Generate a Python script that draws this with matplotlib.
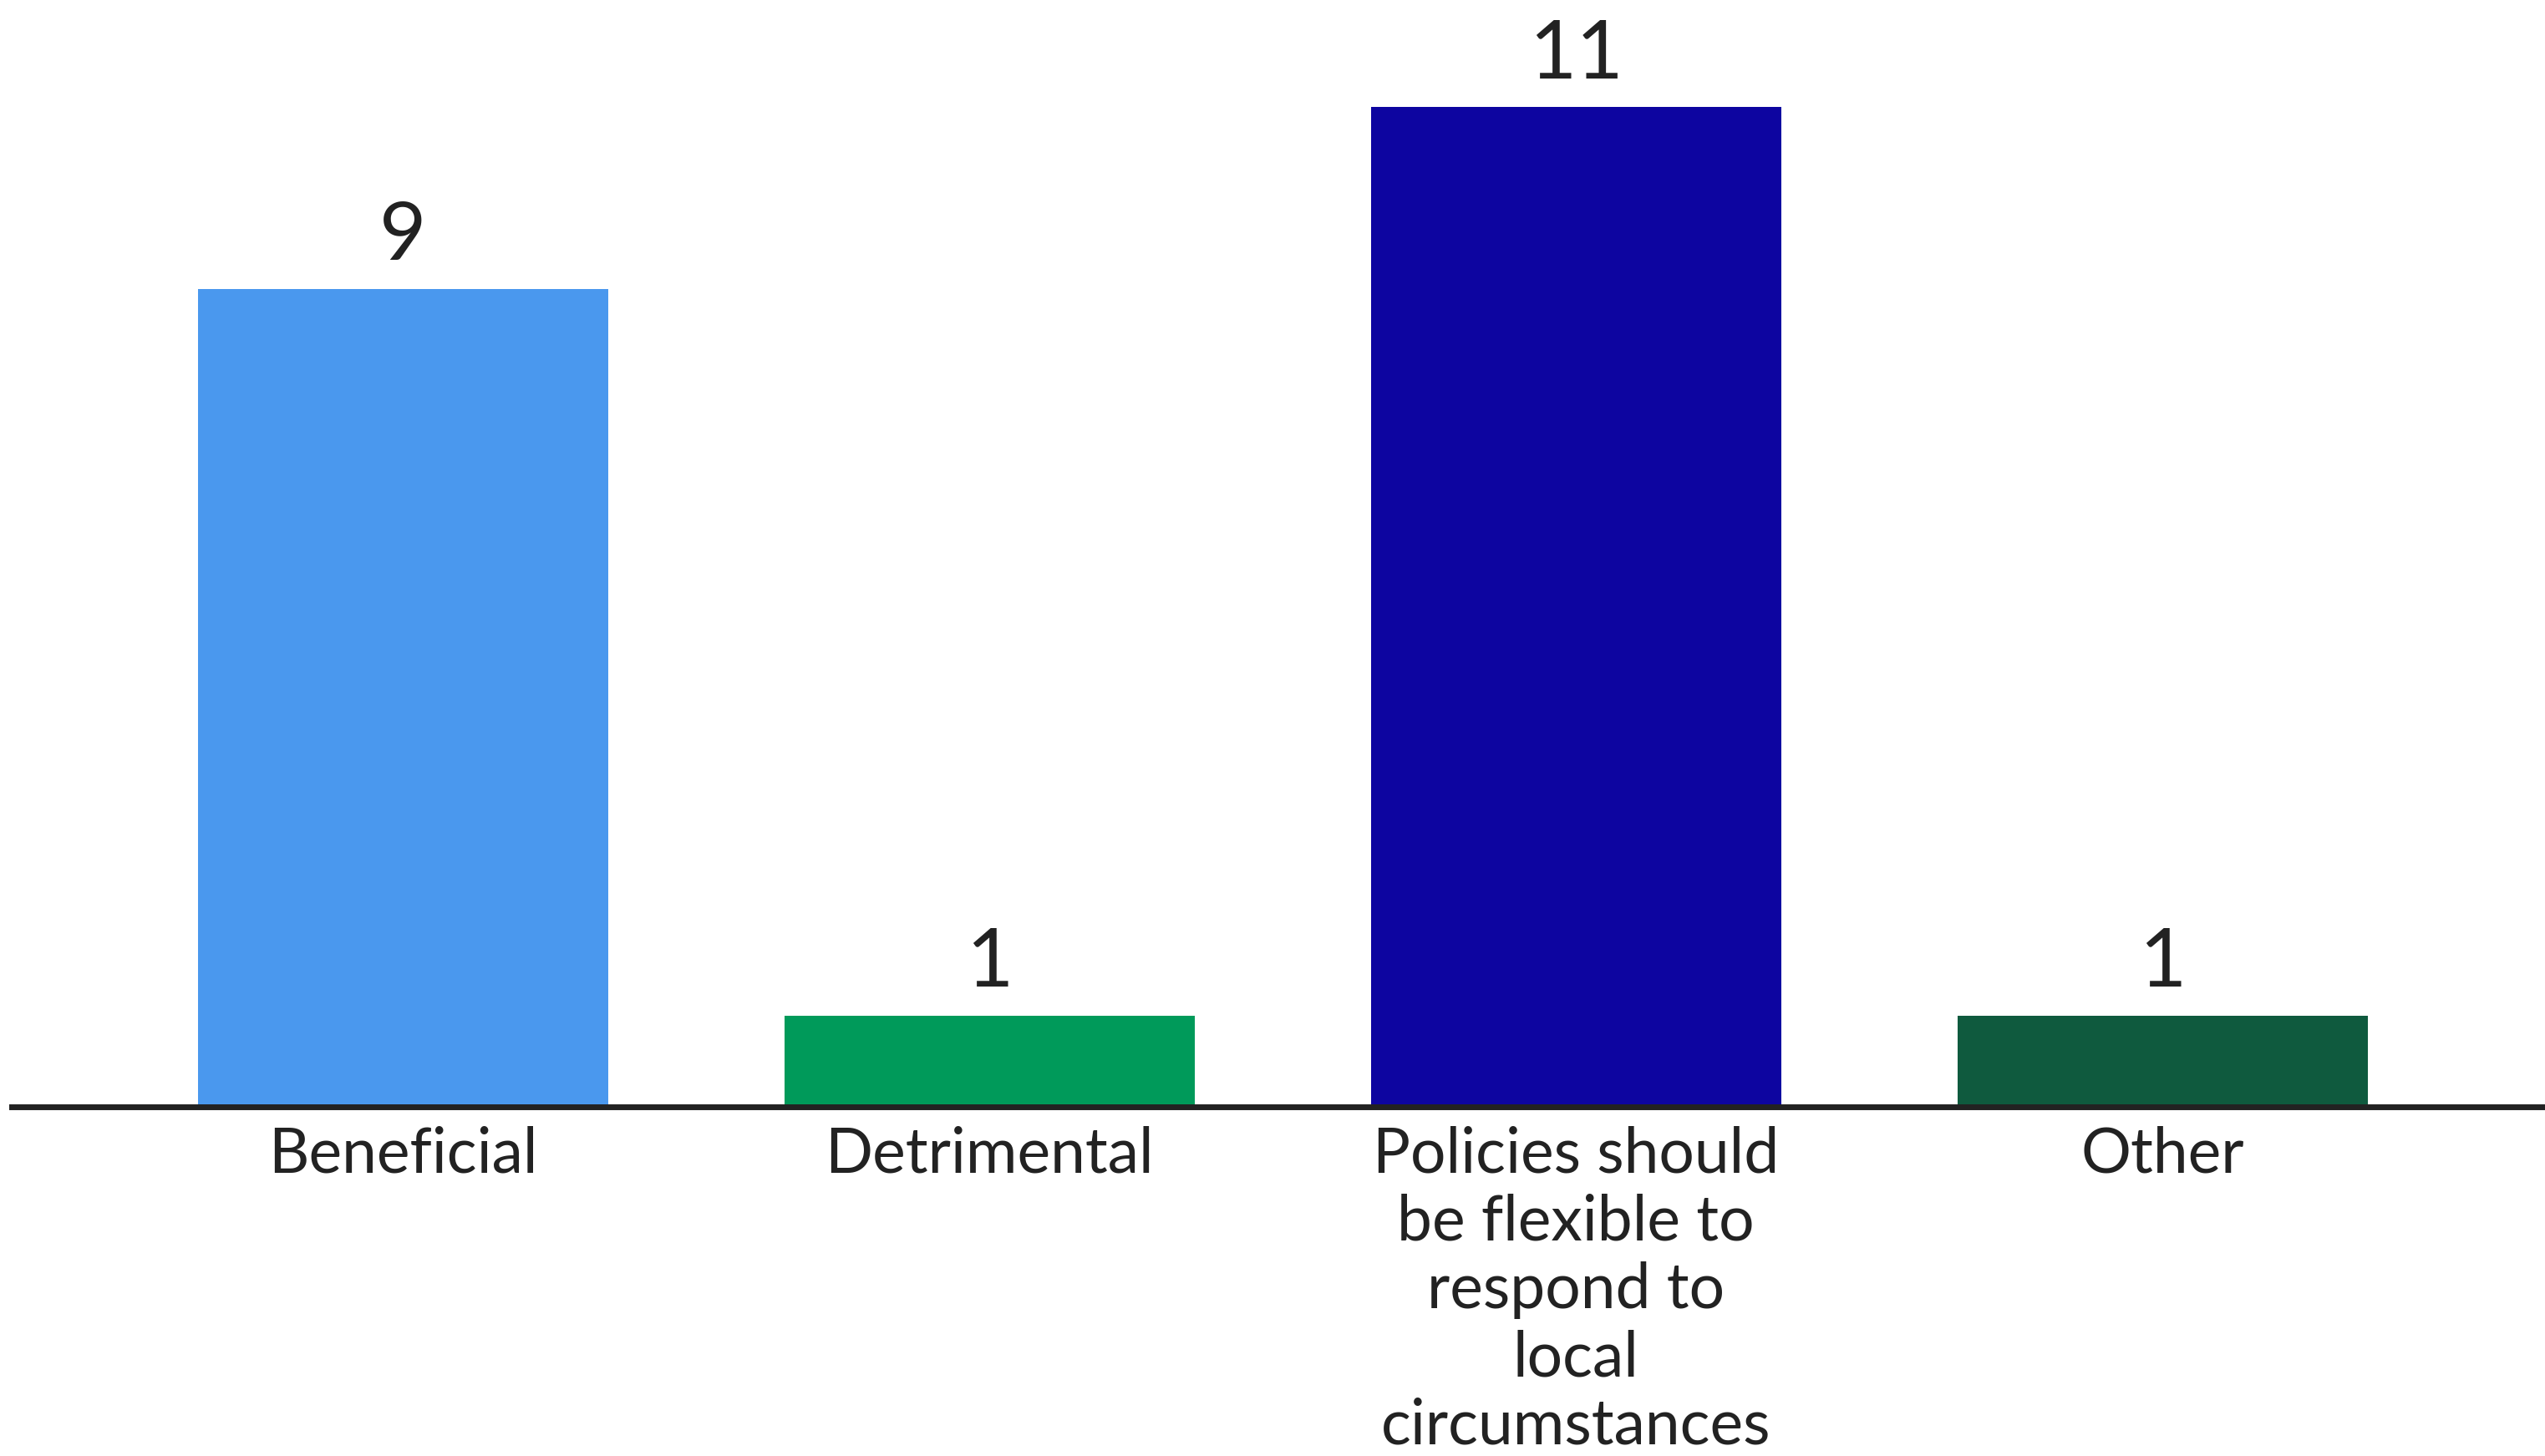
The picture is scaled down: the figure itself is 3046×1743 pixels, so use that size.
import matplotlib
matplotlib.use("Agg")
import matplotlib.pyplot as plt

categories = ["Beneficial", "Detrimental",
              "Policies should\nbe flexible to\nrespond to\nlocal\ncircumstances",
              "Other"]
values = [9, 1, 11, 1]
colors = ["#4A98EE", "#009A5A", "#0D05A0", "#0F5A3E"]

plt.rcParams['font.family'] = ['Lato', 'DejaVu Sans']
W, H = 3046, 1743
fig = plt.figure(figsize=(W / 100, H / 100), dpi=100)
ax = fig.add_axes([14 / W, 1 - 1325 / H, (W - 14) / W, 1325 / H])

x = list(range(len(categories)))
bars = ax.bar(x, values, width=0.7, color=colors, zorder=2)
ax.set_xlim(-0.667, 3.652)
ax.set_ylim(0, 12.18)

for xi, v in zip(x, values):
    ax.annotate(str(v), (xi, v), xytext=(0, 25), textcoords="offset points",
                ha="center", va="baseline", fontsize=70, color="#222222")

ax.set_xticks(x)
ax.set_xticklabels(categories, fontsize=54, color="#222222", linespacing=1.22)
ax.tick_params(axis="x", length=0, pad=16)
ax.set_yticks([])
for s in ["top", "right", "left"]:
    ax.spines[s].set_visible(False)
ax.spines["bottom"].set_linewidth(5)
ax.spines["bottom"].set_color("#222222")
ax.spines["bottom"].set_zorder(3)

fig.savefig("out.png", dpi=100, facecolor="white")
